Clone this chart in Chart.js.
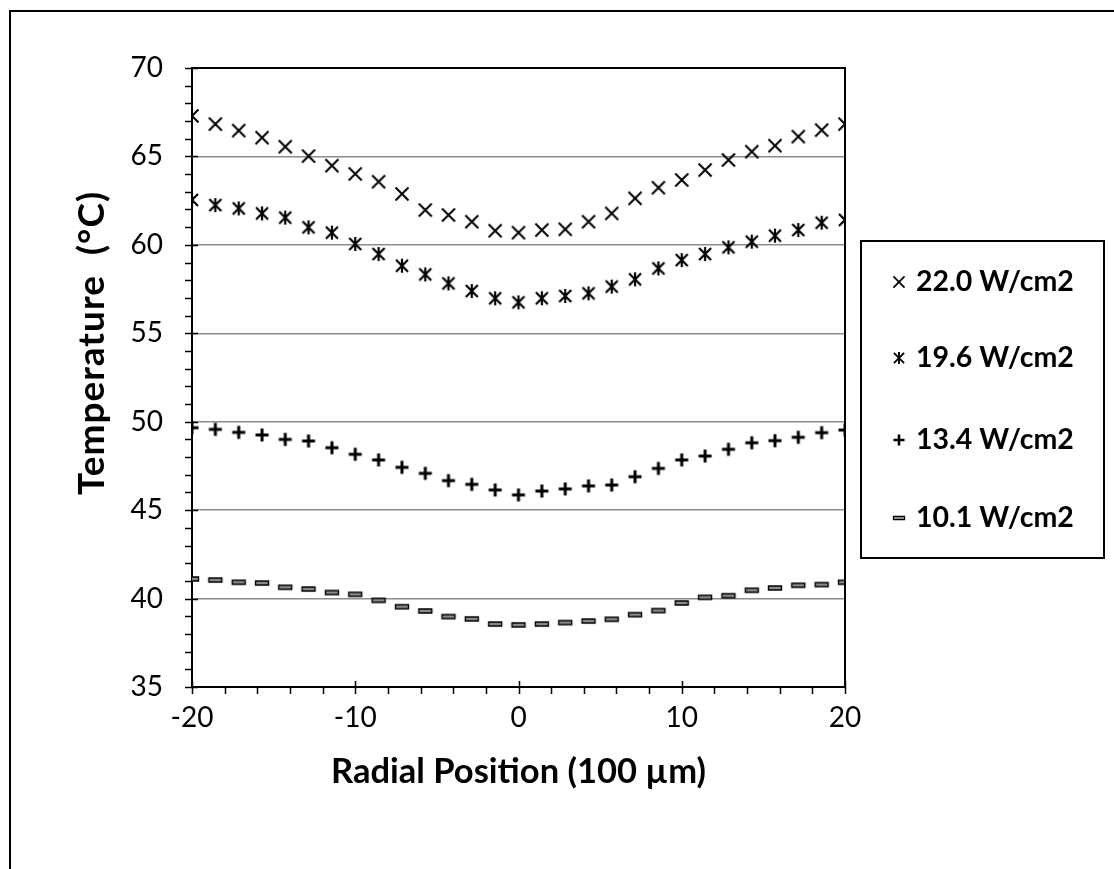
<!DOCTYPE html>
<html>
<head>
<meta charset="utf-8">
<script src="https://cdn.jsdelivr.net/npm/chart.js@4.4.0/dist/chart.umd.min.js"></script>
<style>
  body { margin: 0; background: #fff; }
</style>
</head>
<body>
<canvas id="myChart" width="1114" height="869"></canvas>
<script>
// radial position, in units of 100 µm
const positions = [-20, -18.57, -17.14, -15.71, -14.29, -12.86, -11.43, -10, -8.57, -7.14,
    -5.71, -4.29, -2.86, -1.43, 0, 1.43, 2.86, 4.29, 5.71, 7.14,
    8.57, 10, 11.43, 12.86, 14.29, 15.71, 17.14, 18.57, 20];

// temperature (°C) for each heat flux
const temp22 = [67.29, 66.83, 66.46, 66.06, 65.55, 65.02, 64.48, 64.01, 63.57, 62.88,
    61.97, 61.69, 61.31, 60.80, 60.69, 60.84, 60.88, 61.31, 61.78, 62.63,
    63.23, 63.67, 64.23, 64.80, 65.27, 65.61, 66.12, 66.49, 66.83];
const temp19 = [62.54, 62.25, 62.06, 61.78, 61.54, 60.99, 60.69, 60.05, 59.48, 58.82,
    58.33, 57.82, 57.39, 56.98, 56.75, 56.98, 57.11, 57.26, 57.64, 58.05,
    58.67, 59.14, 59.48, 59.86, 60.18, 60.52, 60.84, 61.25, 61.41];
const temp13 = [49.66, 49.57, 49.40, 49.25, 49.00, 48.91, 48.53, 48.16, 47.84, 47.42,
    47.08, 46.67, 46.46, 46.14, 45.86, 46.08, 46.20, 46.37, 46.42, 46.89,
    47.36, 47.84, 48.06, 48.44, 48.81, 48.93, 49.12, 49.38, 49.53];
const temp10 = [41.11, 41.05, 40.92, 40.88, 40.64, 40.54, 40.34, 40.24, 39.90, 39.54,
    39.30, 38.98, 38.85, 38.56, 38.51, 38.56, 38.64, 38.73, 38.83, 39.09,
    39.32, 39.75, 40.07, 40.16, 40.47, 40.60, 40.75, 40.79, 40.92];

const seriesLabels = ['22.0 W/cm2', '19.6 W/cm2', '13.4 W/cm2', '10.1 W/cm2'];
const markerKinds = ['x', 'star', 'plus', 'dash'];
const xTicks = [-20, -10, 0, 10, 20];
const yTicks = [35, 40, 45, 50, 55, 60, 65, 70];

const FONT = 'Lato, "Open Sans", sans-serif';

// excel style markers
function drawMarker(ctx, kind, cx, cy, s) {
    ctx.save();
    ctx.strokeStyle = '#000';
    ctx.lineCap = 'butt';
    ctx.beginPath();
    if (kind == 'x') {
        const h = 6.5 * s;
        ctx.lineWidth = 2 * s;
        ctx.moveTo(cx - h, cy - h); ctx.lineTo(cx + h, cy + h);
        ctx.moveTo(cx - h, cy + h); ctx.lineTo(cx + h, cy - h);
        ctx.stroke();
    } else if (kind == 'star') {
        const h = 6 * s;
        ctx.lineWidth = 2.2 * s;
        ctx.moveTo(cx - h, cy - h); ctx.lineTo(cx + h, cy + h);
        ctx.moveTo(cx - h, cy + h); ctx.lineTo(cx + h, cy - h);
        ctx.moveTo(cx, cy - 7 * s); ctx.lineTo(cx, cy + 7 * s);
        ctx.stroke();
    } else if (kind == 'plus') {
        const h = 6.5 * s;
        ctx.lineWidth = 3 * s;
        ctx.moveTo(cx - h, cy); ctx.lineTo(cx + h, cy);
        ctx.moveTo(cx, cy - h); ctx.lineTo(cx, cy + h);
        ctx.stroke();
    } else {
        const w = 13 * s, hh = 4 * s;
        ctx.fillStyle = '#8a8a8a';
        ctx.lineWidth = 1.4 * s;
        ctx.rect(cx - w / 2, cy - hh / 2, w, hh);
        ctx.fill();
        ctx.stroke();
    }
    ctx.restore();
}

function makeMarker(kind) {
    const c = document.createElement('canvas');
    c.width = 20; c.height = 20;
    drawMarker(c.getContext('2d'), kind, 10, 10, 1);
    return c;
}

const sets = [temp22, temp19, temp13, temp10];
const datasets = sets.map((vals, k) => ({
    label: seriesLabels[k],
    data: positions.map((x, i) => ({ x: x, y: vals[i] })),
    pointStyle: makeMarker(markerKinds[k]),
    showLine: false
}));

// axes decoration, frame, legend box and rotated y title
const extras = {
    id: 'extras',
    afterDraw(chart) {
        const ctx = chart.ctx;
        const xs = chart.scales.x, ys = chart.scales.y;
        const a = chart.chartArea;
        ctx.save();
        ctx.strokeStyle = '#000';
        ctx.lineWidth = 2;
        ctx.beginPath();
        // outer frame
        ctx.moveTo(10, 869); ctx.lineTo(10, 11); ctx.lineTo(1114, 11);
        // plot top / right border
        ctx.moveTo(a.left, a.top); ctx.lineTo(a.right, a.top); ctx.lineTo(a.right, a.bottom);
        ctx.stroke();

        ctx.lineWidth = 1.5;
        ctx.beginPath();
        for (let v = 35; v <= 70; v++) {
            const y = Math.round(ys.getPixelForValue(v)) + 0.5;
            if (v % 5 == 0) { ctx.moveTo(a.left - 7, y); ctx.lineTo(a.left + 6, y); }
            else { ctx.moveTo(a.left - 7, y); ctx.lineTo(a.left, y); }
        }
        for (let v = -20; v <= 20; v += 2) {
            const x = Math.round(xs.getPixelForValue(v)) + 0.5;
            if (v % 10 == 0) { ctx.moveTo(x, a.bottom - 6); ctx.lineTo(x, a.bottom + 7); }
            else { ctx.moveTo(x, a.bottom); ctx.lineTo(x, a.bottom + 7); }
        }
        ctx.stroke();

        // legend
        ctx.lineWidth = 2;
        ctx.strokeRect(861, 241, 243, 317);
        const rowY = [282, 358, 440, 518];
        ctx.fillStyle = '#000';
        ctx.font = 'bold 28.5px ' + FONT;
        ctx.textBaseline = 'middle';
        ctx.textAlign = 'left';
        for (let k = 0; k < 4; k++) {
            drawMarker(ctx, markerKinds[k], 899, rowY[k], 0.85);
            ctx.fillText(seriesLabels[k], 916, rowY[k]);
        }

        // y title
        ctx.translate(92, 343);
        ctx.rotate(-Math.PI / 2);
        ctx.textAlign = 'center';
        ctx.font = 'bold 37px ' + FONT;
        ctx.letterSpacing = '1px';
        ctx.fillText('Temperature  (°C)', 0, 0);
        ctx.restore();
    }
};

const config = {
    type: 'scatter',
    data: { datasets: datasets },
    options: {
        responsive: false,
        animation: false,
        layout: { padding: { left: 0, top: 68, right: 269, bottom: 0 } },
        plugins: {
            legend: { display: false },
            tooltip: { enabled: false }
        },
        scales: {
            x: {
                type: 'linear',
                min: -20, max: 20,
                afterBuildTicks: s => { s.ticks = xTicks.map(v => ({ value: v })); },
                afterFit: s => { s.height = 182; },
                grid: { color: 'transparent', drawTicks: false },
                border: { color: '#000', width: 2 },
                ticks: { color: '#000', padding: 14, font: { family: FONT, size: 28 } },
                title: {
                    display: true,
                    text: 'Radial Position (100 µm)',
                    color: '#000',
                    font: { family: FONT, size: 34.5, weight: 'bold' },
                    padding: { top: 0, bottom: 76 }
                }
            },
            y: {
                min: 35, max: 70,
                afterBuildTicks: s => { s.ticks = yTicks.map(v => ({ value: v })); },
                afterFit: s => { s.width = 192; },
                grid: {
                    drawTicks: false,
                    lineWidth: 1.5,
                    color: c => (c.tick && c.tick.value > 35 && c.tick.value < 70) ? '#8c8c8c' : 'transparent'
                },
                border: { color: '#000', width: 2 },
                ticks: { color: '#000', padding: 29, font: { family: FONT, size: 28 } }
            }
        },
        elements: { point: { radius: 8 } }
    },
    plugins: [extras]
};

const myChart = new Chart(document.getElementById('myChart'), config);
</script>
</body>
</html>
